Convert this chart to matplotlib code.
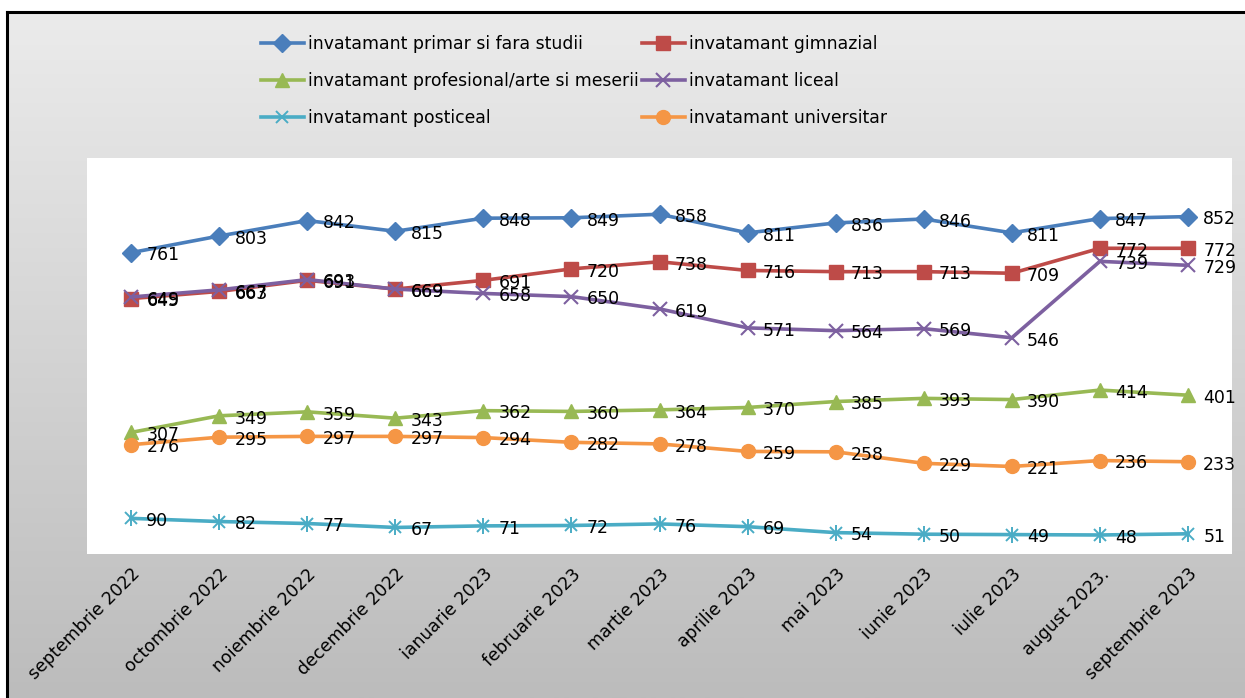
import numpy as np
import matplotlib
matplotlib.use("Agg")
import matplotlib.pyplot as plt

months = ["septembrie 2022", "octombrie 2022", "noiembrie 2022", "decembrie 2022",
          "ianuarie 2023", "februarie 2023", "martie 2023", "aprilie 2023",
          "mai 2023", "iunie 2023", "iulie 2023", "august 2023.", "septembrie 2023"]

primar = [761, 803, 842, 815, 848, 849, 858, 811, 836, 846, 811, 847, 852]
gimnazial = [645, 663, 691, 669, 691, 720, 738, 716, 713, 713, 709, 772, 772]
profesional = [307, 349, 359, 343, 362, 360, 364, 370, 385, 393, 390, 414, 401]
liceal = [649, 667, 693, 669, 658, 650, 619, 571, 564, 569, 546, 739, 729]
posticeal = [90, 82, 77, 67, 71, 72, 76, 69, 54, 50, 49, 48, 51]
universitar = [276, 295, 297, 297, 294, 282, 278, 259, 258, 229, 221, 236, 233]

series = [
    ("invatamant primar si fara studii", primar, "#4a7ebb", "D", 9),
    ("invatamant gimnazial", gimnazial, "#be4b48", "s", 10),
    ("invatamant profesional/arte si meserii", profesional, "#98b954", "^", 10),
    ("invatamant liceal", liceal, "#7d60a0", "x", 10),
    ("invatamant posticeal", posticeal, "#4aacc5", "*", 1),
    ("invatamant universitar", universitar, "#f59645", "o", 10),
]

fig = plt.figure(figsize=(12.45, 6.98), dpi=100)

# gradient background + border
bg = fig.add_axes([0, 0, 1, 1], zorder=-10)
grad = np.linspace(0, 1, 256).reshape(-1, 1)
cmap = matplotlib.colors.LinearSegmentedColormap.from_list("g", ["#ececec", "#bcbcbc"])
bg.imshow(grad, aspect="auto", cmap=cmap, extent=[0, 1245, 698, 0])
bg.fill_between([0, 1245], 0, 12, color="white")
bg.fill_between([0, 7], 0, 698, color="white")
bg.plot([7, 1245], [12, 12], color="black", lw=2.2)
bg.plot([7, 7], [12, 698], color="black", lw=2.2)
bg.set_xlim(0, 1245)
bg.set_ylim(698, 0)
bg.axis("off")

ax = fig.add_axes([87 / 1245, 1 - 554 / 698, (1232 - 87) / 1245, (554 - 158) / 698])
ax.set_facecolor("white")
x = np.arange(len(months))

handles = {}
for name, vals, col, mk, ms in series:
    if mk == "*":
        ln, = ax.plot(x, vals, color=col, lw=2.6, marker="x", ms=9, mew=1.4, zorder=3)
        ax.plot(x, vals, color=col, lw=0, marker="|", ms=12, mew=1.4, zorder=3)
    elif mk == "x":
        ln, = ax.plot(x, vals, color=col, lw=2.6, marker="x", ms=ms, mew=1.5, zorder=3)
    else:
        ln, = ax.plot(x, vals, color=col, lw=2.6, marker=mk, ms=ms, mec=col, zorder=3)
    handles[name] = ln
    for xi, v in zip(x, vals):
        ax.annotate(str(v), (xi, v), xytext=(11, -2), textcoords="offset points",
                    ha="left", va="center", fontsize=12.5, color="black", zorder=5)

ax.set_xlim(-0.5, len(months) - 0.5)
ax.set_ylim(0, 1000)
ax.set_yticks([])
ax.set_xticks(x)
ax.set_xticklabels(months, rotation=45, ha="right", rotation_mode="anchor", fontsize=12.5)
ax.tick_params(axis="x", length=0, pad=8)
for s in ax.spines.values():
    s.set_visible(False)

order = [0, 2, 4, 1, 3, 5]
hl = [handles[series[i][0]] for i in order]
lb = [series[i][0] for i in order]
fig.legend(hl, lb, loc="upper left", bbox_to_anchor=(254 / 1245, 1 - 28 / 698), ncol=2,
           frameon=False, fontsize=12.4, handlelength=2.5, handletextpad=0.25,
           columnspacing=0.15, labelspacing=1.12, borderaxespad=0)

fig.savefig("out.png", dpi=100)
